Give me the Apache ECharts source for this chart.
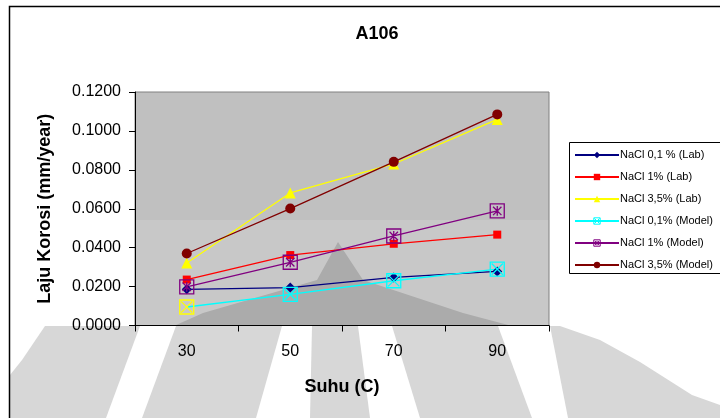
<!DOCTYPE html>
<html><head><meta charset="utf-8">
<script src="https://cdn.jsdelivr.net/npm/echarts@6/dist/echarts.min.js"></script>
<style>html,body{margin:0;padding:0;background:#fff}#c{width:720px;height:418px}</style>
</head><body><div id="c"></div>
<script>
const categories = ['30', '50', '70', '90'];
const seriesNames = ['NaCl 0,1 % (Lab)', 'NaCl 1% (Lab)', 'NaCl 3,5% (Lab)', 'NaCl 0,1% (Model)', 'NaCl 1% (Model)', 'NaCl 3,5% (Model)'];
const nacl01Lab = [0.0186, 0.0195, 0.0247, 0.0278];
const nacl1Lab = [0.0236, 0.0362, 0.0420, 0.0467];
const nacl35Lab = [0.0321, 0.0681, 0.0830, 0.1059];
const nacl01Model = [0.0095, 0.0160, 0.0230, 0.0290];
const nacl1Model = [0.0199, 0.0325, 0.0460, 0.0589];
const nacl35Model = [0.0370, 0.0601, 0.0841, 0.1085];
const yMin = 0, yMax = 0.12, yStep = 0.02;

const boxX = 'path://M0,0L10,0L10,10L0,10Z M1,1L9,9 M9,1L1,9';
const boxStar = 'path://M0,0L10,0L10,10L0,10Z M2,2L8,8 M8,2L2,8 M5,1.5L5,8.5';

const chart = echarts.init(document.getElementById('c'), null, {renderer: 'canvas'});
const G = {l: 135, t: 92, r: 549, b: 325.5};

function lineSeries(name, data, color, symbol, size, extra) {
  return Object.assign({
    name, type: 'line', data, symbol, symbolSize: size,
    lineStyle: {color, width: 1.3},
    itemStyle: {color, borderColor: color, borderWidth: 0},
    emphasis: {disabled: true}, animation: false
  }, extra || {});
}

const option = {
  backgroundColor: 'transparent',
  animation: false,
  textStyle: {fontFamily: '"Liberation Sans", Arial, sans-serif', color: '#000'},
  title: {
    text: 'A106', left: 372, top: 20, textAlign: 'center',
    textStyle: {fontSize: 18, fontWeight: 'bold', color: '#000', fontFamily: '"Liberation Sans", Arial, sans-serif'}
  },
  grid: {left: G.l, top: G.t, width: G.r - G.l, height: G.b - G.t, show: true,
    borderColor: '#808080', borderWidth: 1, backgroundColor: 'transparent'},
  legend: {
    orient: 'vertical', left: 574, top: 149.5, padding: 0, itemWidth: 44, itemHeight: 8, itemGap: 11,
    textStyle: {fontSize: 11, color: '#000', padding: [0, 0, 0, -4]},
    data: [
      {name: seriesNames[0]},
      {name: seriesNames[1]},
      {name: seriesNames[2]},
      {name: seriesNames[3], itemStyle: {color: 'transparent', borderColor: '#00ffff', borderWidth: 1}},
      {name: seriesNames[4], itemStyle: {color: 'transparent', borderColor: '#800080', borderWidth: 1}},
      {name: seriesNames[5]}
    ]
  },
  xAxis: {
    type: 'category', data: categories, boundaryGap: true,
    name: 'Suhu (C)', nameLocation: 'middle', nameGap: 53,
    nameTextStyle: {fontSize: 18, fontWeight: 'bold', color: '#000'},
    axisLine: {lineStyle: {color: '#000', width: 1}},
    axisTick: {show: true, length: 6, inside: false, lineStyle: {color: '#000'}},
    axisLabel: {fontSize: 16, color: '#000', margin: 18}
  },
  yAxis: {
    type: 'value', min: yMin, max: yMax, interval: yStep,
    name: 'Laju Korosi (mm/year)', nameLocation: 'middle', nameGap: 81, nameRotate: 90,
    nameTextStyle: {fontSize: 18, fontWeight: 'bold', color: '#000'},
    axisLine: {show: true, lineStyle: {color: '#000', width: 1}},
    axisTick: {show: true, length: 6, lineStyle: {color: '#000'}},
    splitLine: {show: false},
    axisLabel: {fontSize: 16, color: '#000', margin: 14, formatter: v => v.toFixed(4)}
  },
  graphic: [
    {type: 'rect', z: -100, shape: {x: 10, y: 326, width: 710, height: 92}, style: {fill: '#d7d7d7'}},
    {type: 'polygon', z: -99, shape: {points: [[10,326],[45,326],[22,360],[10,375]]}, style: {fill: '#ffffff'}},
    {type: 'polygon', z: -99, shape: {points: [[140,326],[176,326],[142,418],[106,418]]}, style: {fill: '#ffffff'}},
    {type: 'polygon', z: -99, shape: {points: [[282,326],[312,326],[310,418],[256,418]]}, style: {fill: '#ffffff'}},
    {type: 'polygon', z: -99, shape: {points: [[358,326],[392,326],[420,418],[370,418]]}, style: {fill: '#ffffff'}},
    {type: 'polygon', z: -99, shape: {points: [[498,326],[550,326],[568,418],[532,418]]}, style: {fill: '#ffffff'}},
    {type: 'polygon', z: -99, shape: {points: [[560,326],[720,326],[720,405],[692,395],[640,362],[600,340]]}, style: {fill: '#ffffff'}},
    {type: 'rect', z: -98, shape: {x: G.l, y: G.t, width: G.r - G.l, height: 220 - G.t}, style: {fill: '#c0c0c0'}},
    {type: 'rect', z: -98, shape: {x: G.l, y: 220, width: G.r - G.l, height: G.b - 220}, style: {fill: '#c8c8c8'}},
    {type: 'polygon', z: -97, shape: {points: [[338,242],[363,280],[463,313],[510,325.5],[175,325.5],[203,313],[317,280]]}, style: {fill: '#ababab'}},
    {type: 'rect', z: -5, shape: {x: 569.5, y: 142.5, width: 170, height: 131}, style: {fill: '#ffffff', stroke: '#000', lineWidth: 1}},
    {type: 'rect', z: 100, shape: {x: 9.5, y: 6.5, width: 730, height: 430}, style: {fill: 'none', stroke: '#000', lineWidth: 1.5}}
  ],
  series: [
    lineSeries(seriesNames[0], nacl01Lab, '#000080', 'diamond', 10),
    lineSeries(seriesNames[1], nacl1Lab, '#ff0000', 'rect', 8),
    lineSeries(seriesNames[2], nacl35Lab, '#ffff00', 'triangle', 11),
    lineSeries(seriesNames[3], nacl01Model.map((v, i) => i === 0 ? {value: v, itemStyle: {borderColor: '#ffff00'}} : v), '#00ffff', boxX, 14,
      {itemStyle: {color: 'transparent', borderColor: '#00ffff', borderWidth: 1.3}}),
    lineSeries(seriesNames[4], nacl1Model, '#800080', boxStar, 14,
      {itemStyle: {color: 'transparent', borderColor: '#800080', borderWidth: 1.3}}),
    lineSeries(seriesNames[5], nacl35Model, '#800000', 'circle', 10)
  ]
};
chart.setOption(option);
</script></body></html>
